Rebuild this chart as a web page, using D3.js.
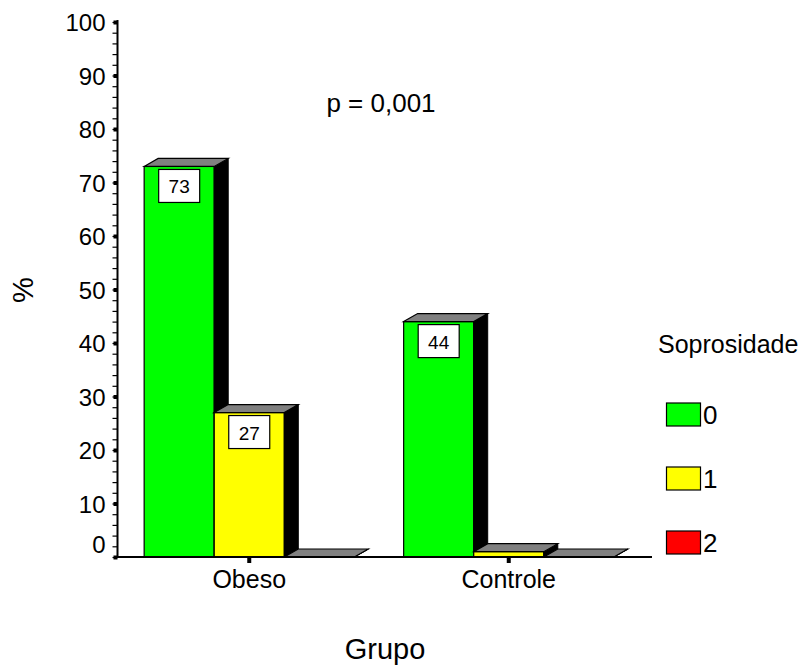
<!DOCTYPE html>
<html>
<head>
<meta charset="utf-8">
<title>Soprosidade por grupo</title>
<script src="https://cdn.jsdelivr.net/npm/d3@7"></script>
<style>
  body { margin: 0; background: #fff; }
  svg text { font-family: "Liberation Sans", Arial, sans-serif; fill: #000; }
</style>
</head>
<body>
<div id="chart"></div>
<script>
  // dados
  const grupos = ["Obeso", "Controle"]
  const niveis = ["0", "1", "2"]
  const valoresObeso = [73, 27, 0]
  const valoresControle = [44, 1, 0]
  const cores = ["#00ff00", "#ffff00", "#ff0000"]
  const yTicks = [0, 10, 20, 30, 40, 50, 60, 70, 80, 90, 100]

  const series = { Obeso: valoresObeso, Controle: valoresControle }

  const width = 806, height = 667
  const svg = d3.select("#chart").append("svg")
    .attr("width", width).attr("height", height)

  const axisX = 117.5, baseY = 557
  const y = d3.scaleLinear().domain([0, 100]).range([baseY, 22])
  const x = d3.scaleBand().domain(grupos).range([119.5, 638.5])
    .paddingInner(0.19).paddingOuter(0.095)
  const x1 = d3.scaleBand().domain(niveis).range([0, x.bandwidth()])
  const dx = 14, dy = -8

  // barras 3D
  grupos.forEach(function (g) {
    const gEl = svg.append("g").attr("transform", `translate(${x(g)},0)`)
    niveis.forEach(function (n, i) {
      const v = series[g][i]
      const x0 = x1(n), w = x1.bandwidth(), top = y(v)
      const b = gEl.append("g")
      b.append("rect")
        .attr("x", x0).attr("y", top).attr("width", w).attr("height", baseY - top)
        .attr("fill", cores[i]).attr("stroke", "#000").attr("stroke-width", 1.2)
      b.append("polygon")
        .attr("points", [[x0 + w, top], [x0 + w + dx, top + dy], [x0 + w + dx, baseY + dy], [x0 + w, baseY]].join(" "))
        .attr("fill", "#000").attr("stroke", "#000").attr("stroke-width", 1)
      b.append("polygon")
        .attr("points", [[x0, top], [x0 + dx, top + dy], [x0 + w + dx, top + dy], [x0 + w, top]].join(" "))
        .attr("fill", "#808080").attr("stroke", "#000").attr("stroke-width", 1.2)
      if (v >= 5) {
        const cx = x0 + w / 2
        b.append("rect")
          .attr("x", cx - 20.5).attr("y", top + 3).attr("width", 41).attr("height", 33)
          .attr("fill", "#fff").attr("stroke", "#000").attr("stroke-width", 1.2)
        b.append("text")
          .attr("x", cx).attr("y", top + 27).attr("text-anchor", "middle")
          .attr("font-size", 19).text(v)
      }
    })
  })

  // eixo y: ticks menores
  const minor = d3.range(0, 101, 2)
  svg.append("g").attr("transform", `translate(${axisX},0)`)
    .call(d3.axisLeft(y).tickValues(minor).tickSize(5).tickFormat(""))
    .call(g => g.select(".domain").remove())
    .call(g => g.selectAll("line").attr("stroke-width", 1.2))

  const yAxis = svg.append("g").attr("transform", `translate(${axisX},0)`)
    .call(d3.axisLeft(y).tickValues(yTicks).tickSize(4).tickPadding(8))
  yAxis.select(".domain").remove()
  yAxis.selectAll(".tick line").attr("stroke-width", 4)
  yAxis.selectAll(".tick text").attr("font-size", 24).attr("dy", "0.36em")
  yAxis.selectAll(".tick text").filter(d => d === 0).attr("dy", "-0.2em")

  svg.append("line").attr("x1", axisX).attr("x2", axisX)
    .attr("y1", 20).attr("y2", baseY).attr("stroke", "#000").attr("stroke-width", 2)

  // eixo x
  svg.append("line").attr("x1", axisX - 1).attr("x2", 652)
    .attr("y1", baseY).attr("y2", baseY).attr("stroke", "#000").attr("stroke-width", 2)
  const xAxis = svg.append("g").attr("transform", `translate(0,${baseY})`)
    .call(d3.axisBottom(x).tickSize(6).tickPadding(7))
  xAxis.select(".domain").remove()
  xAxis.selectAll(".tick line").attr("stroke-width", 4)
  xAxis.selectAll(".tick text").attr("font-size", 25)

  // textos
  svg.append("text").attr("x", 381).attr("y", 112).attr("text-anchor", "middle")
    .attr("font-size", 26).text("p = 0,001")
  svg.append("text").attr("transform", "translate(33,290) rotate(-90)")
    .attr("text-anchor", "middle").attr("font-size", 29).text("%")
  svg.append("text").attr("x", 385).attr("y", 659).attr("text-anchor", "middle")
    .attr("font-size", 29).text("Grupo")

  // legenda
  svg.append("text").attr("x", 658).attr("y", 353).attr("font-size", 25).text("Soprosidade")
  const leg = svg.append("g")
  niveis.forEach(function (n, i) {
    const ly = 403 + i * 64
    leg.append("rect").attr("x", 666.5).attr("y", ly).attr("width", 34).attr("height", 23)
      .attr("fill", cores[i]).attr("stroke", "#000").attr("stroke-width", 1.2)
    leg.append("text").attr("x", 703).attr("y", ly + 21).attr("font-size", 26).text(n)
  })
</script>
</body>
</html>
